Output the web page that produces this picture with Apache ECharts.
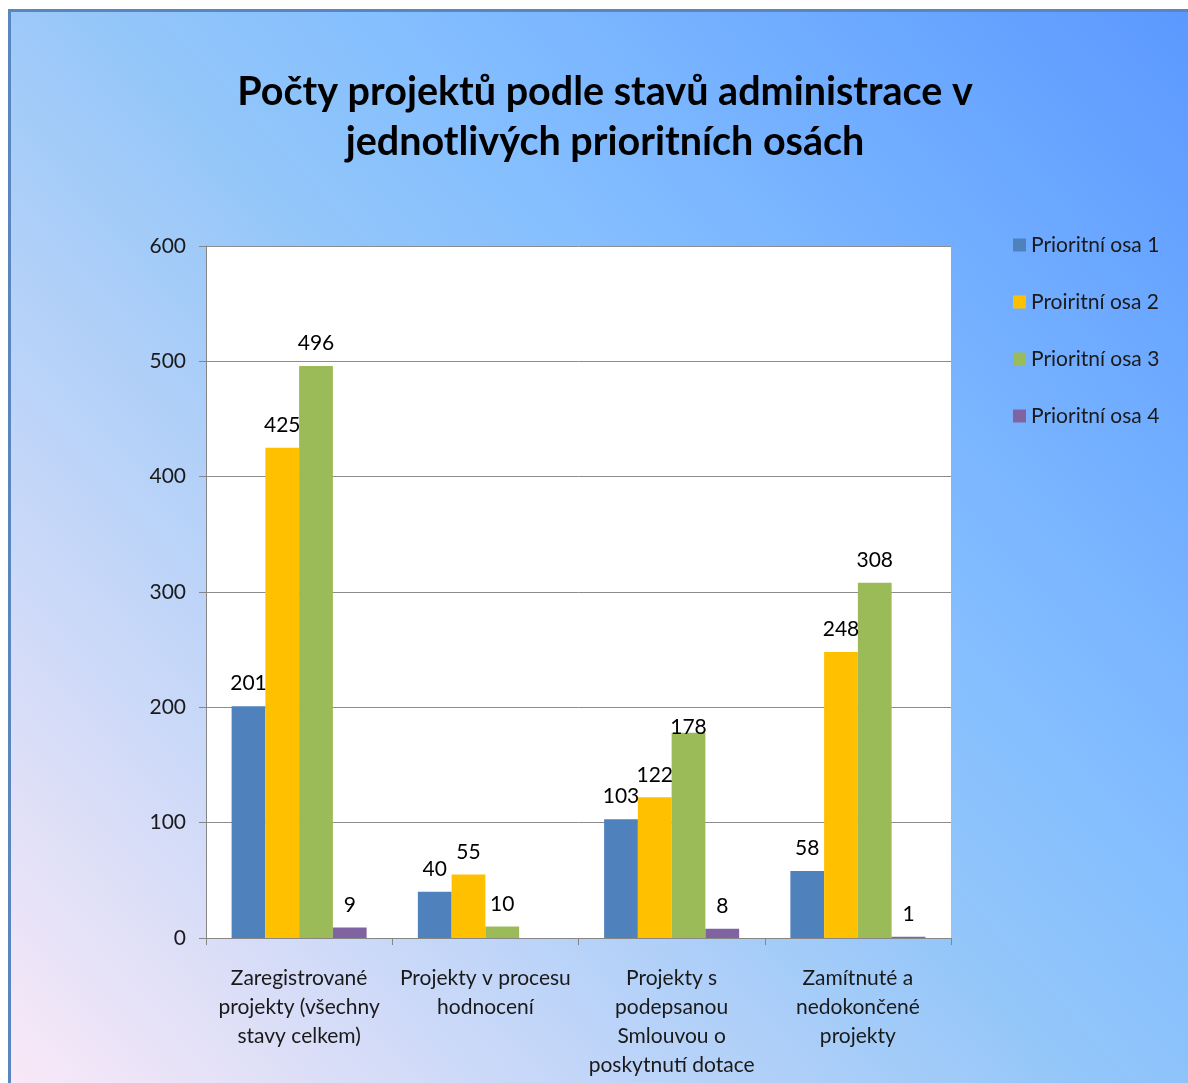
<!DOCTYPE html>
<html>
<head>
<meta charset="utf-8">
<script src="https://cdn.jsdelivr.net/npm/echarts@6/dist/echarts.min.js"></script>
<style>
html,body{margin:0;padding:0;background:#fff;}
#chart{width:1188px;height:1083px;}
</style>
</head>
<body>
<div id="chart"></div>
<script>
var categories = [
  'Zaregistrované\nprojekty (všechny\nstavy celkem)',
  'Projekty v procesu\nhodnocení',
  'Projekty s\npodepsanou\nSmlouvou o\nposkytnutí dotace',
  'Zamítnuté a\nnedokončené\nprojekty'
];
var seriesNames = ['Prioritní osa 1', 'Proiritní osa 2', 'Prioritní osa 3', 'Prioritní osa 4'];
var osa1 = [201, 40, 103, 58];
var osa2 = [425, 55, 122, 248];
var osa3 = [496, 10, 178, 308];
var osa4 = [9, '-', 8, 1];
var yMin = 0, yMax = 600, yStep = 100;
var titleText = 'Počty projektů podle stavů administrace v\njednotlivých prioritních osách';

var colors = ['#4f81bd', '#ffc000', '#9bbb59', '#8064a2'];
var FONT = 'Lato';
var FS = 21;
var chart = echarts.init(document.getElementById('chart'), null, {renderer: 'canvas'});

function mk(name, data, color, lowIdx) {
  var d = data.map(function (v, i) {
    return i === lowIdx ? {value: v, label: {distance: -5}} : v;
  });
  return {
    name: name, type: 'bar', data: d, barGap: '0%', barCategoryGap: '27.5%',
    itemStyle: {color: color},
    label: {show: true, position: 'top', distance: 12, color: '#000', fontSize: FS, fontFamily: FONT}
  };
}

chart.setOption({
  backgroundColor: '#fff',
  animation: false,
  graphic: [{
    type: 'rect', z: -10, silent: true,
    shape: {x: 9.5, y: 10.5, width: 1195, height: 1090},
    style: {
      fill: new echarts.graphic.LinearGradient(0, 1, 1, 0, [
        {offset: 0, color: '#fbe9f7'},
        {offset: 0.5, color: '#93c6f9'},
        {offset: 0.62, color: '#85bfff'},
        {offset: 1, color: '#5a98ff'}
      ]),
      stroke: '#5a86c0', lineWidth: 3
    }
  }],
  title: {
    text: titleText, left: 600, top: 62, textAlign: 'center',
    textStyle: {fontFamily: FONT, fontSize: 39.5, fontWeight: 'bold', color: '#000', lineHeight: 50}
  },
  legend: {
    orient: 'vertical', left: 1008, top: 228, itemWidth: 13, itemHeight: 13, itemGap: 33,
    icon: 'rect',
    textStyle: {fontFamily: FONT, fontSize: FS, color: '#1a1a1a', lineHeight: 24},
    data: seriesNames
  },
  grid: {left: 206, right: 237, top: 246, bottom: 145, show: true, backgroundColor: '#fff', borderWidth: 0},
  xAxis: {
    type: 'category', data: categories,
    axisLine: {lineStyle: {color: '#868686', width: 1}},
    axisTick: {show: true, length: 7, lineStyle: {color: '#868686'}},
    axisLabel: {fontFamily: FONT, fontSize: FS, color: '#1a1a1a', lineHeight: 29, margin: 26, interval: 0}
  },
  yAxis: {
    type: 'value', min: yMin, max: yMax, interval: yStep,
    axisLine: {show: true, lineStyle: {color: '#868686'}},
    axisTick: {show: true, length: 7, lineStyle: {color: '#868686'}},
    splitLine: {lineStyle: {color: '#8c8c8c', width: 1}},
    axisLabel: {fontFamily: FONT, fontSize: FS, color: '#1a1a1a', margin: 20}
  },
  series: [mk(seriesNames[0], osa1, colors[0], -1), mk(seriesNames[1], osa2, colors[1], -1),
           mk(seriesNames[2], osa3, colors[2], 2), mk(seriesNames[3], osa4, colors[3], -1)]
});
</script>
</body>
</html>
